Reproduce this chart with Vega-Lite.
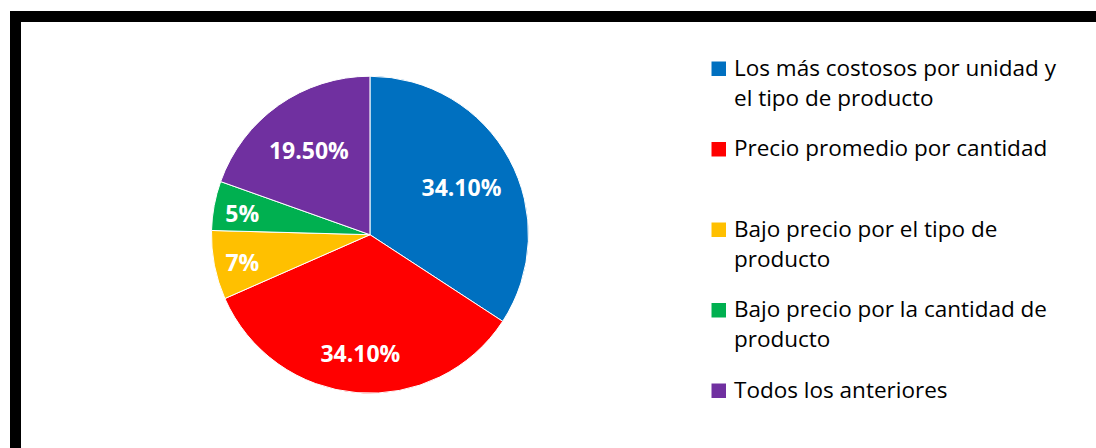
{
  "$schema": "https://vega.github.io/schema/vega-lite/v6.json",
  "width": 1090,
  "height": 441,
  "autosize": {"type": "none"},
  "padding": {"left": 15.5, "top": 16.5, "right": -9.5, "bottom": -9.5},
  "background": "white",
  "config": {
    "view": {"stroke": "black", "strokeWidth": 11, "fill": "white"},
    "style": {"guide-label": {"lineHeight": 30, "dy": 7}}
  },
  "data": {
    "values": [
      {"categoria": "Los más costosos por unidad y el tipo de producto", "porcentaje": 34.1, "etiqueta": "34.10%", "orden": 1},
      {"categoria": "Precio promedio por cantidad", "porcentaje": 34.1, "etiqueta": "34.10%", "orden": 2},
      {"categoria": "Bajo precio por el tipo de producto", "porcentaje": 7, "etiqueta": "7%", "orden": 3},
      {"categoria": "Bajo precio por la cantidad de producto", "porcentaje": 5, "etiqueta": "5%", "orden": 4},
      {"categoria": "Todos los anteriores", "porcentaje": 19.5, "etiqueta": "19.50%", "orden": 5}
    ]
  },
  "encoding": {
    "theta": {"field": "porcentaje", "type": "quantitative", "stack": true},
    "order": {"field": "orden", "type": "quantitative"},
    "x": {"datum": 0.3252, "type": "quantitative", "scale": {"domain": [0, 1]}, "axis": null},
    "y": {"datum": 0.4948, "type": "quantitative", "scale": {"domain": [0, 1], "reverse": true}, "axis": null},
    "color": {
      "field": "categoria",
      "type": "nominal",
      "scale": {
        "domain": [
          "Los más costosos por unidad y el tipo de producto",
          "Precio promedio por cantidad",
          "Bajo precio por el tipo de producto",
          "Bajo precio por la cantidad de producto",
          "Todos los anteriores"
        ],
        "range": ["#0070C0", "#FF0000", "#FFC000", "#00B050", "#7030A0"]
      },
      "legend": {
        "title": null,
        "orient": "none",
        "legendX": 692,
        "legendY": 41,
        "padding": 0,
        "gridAlign": "all",
        "rowPadding": 27.5,
        "symbolType": "square",
        "symbolSize": 210,
        "symbolStrokeWidth": 0,
        "symbolOpacity": 1,
        "labelFont": "Open Sans",
        "labelFontSize": 22.5,
        "labelColor": "#000000",
        "labelOffset": 4,
        "labelLimit": 0,
        "labelBaseline": "alphabetic",
        "labelExpr": "datum.label == 'Los más costosos por unidad y el tipo de producto' ? ['Los más costosos por unidad y', 'el tipo de producto'] : datum.label == 'Bajo precio por el tipo de producto' ? ['Bajo precio por el tipo de', 'producto'] : datum.label == 'Bajo precio por la cantidad de producto' ? ['Bajo precio por la cantidad de', 'producto'] : datum.label"
      }
    }
  },
  "layer": [
    {"mark": {"type": "arc", "radius": 158.5, "stroke": "white", "strokeWidth": 1}},
    {
      "mark": {
        "type": "text",
        "font": "Open Sans",
        "fontWeight": "bold",
        "fontSize": 23,
        "fill": "white",
        "align": "center",
        "baseline": "middle",
        "dy": 4,
        "radius": {"expr": "datum.orden == 2 ? 117 : datum.orden == 5 ? 106 : datum.porcentaje < 10 ? 130 : 104"}
      },
      "encoding": {
        "text": {"field": "etiqueta", "type": "nominal"}
      }
    }
  ]
}
